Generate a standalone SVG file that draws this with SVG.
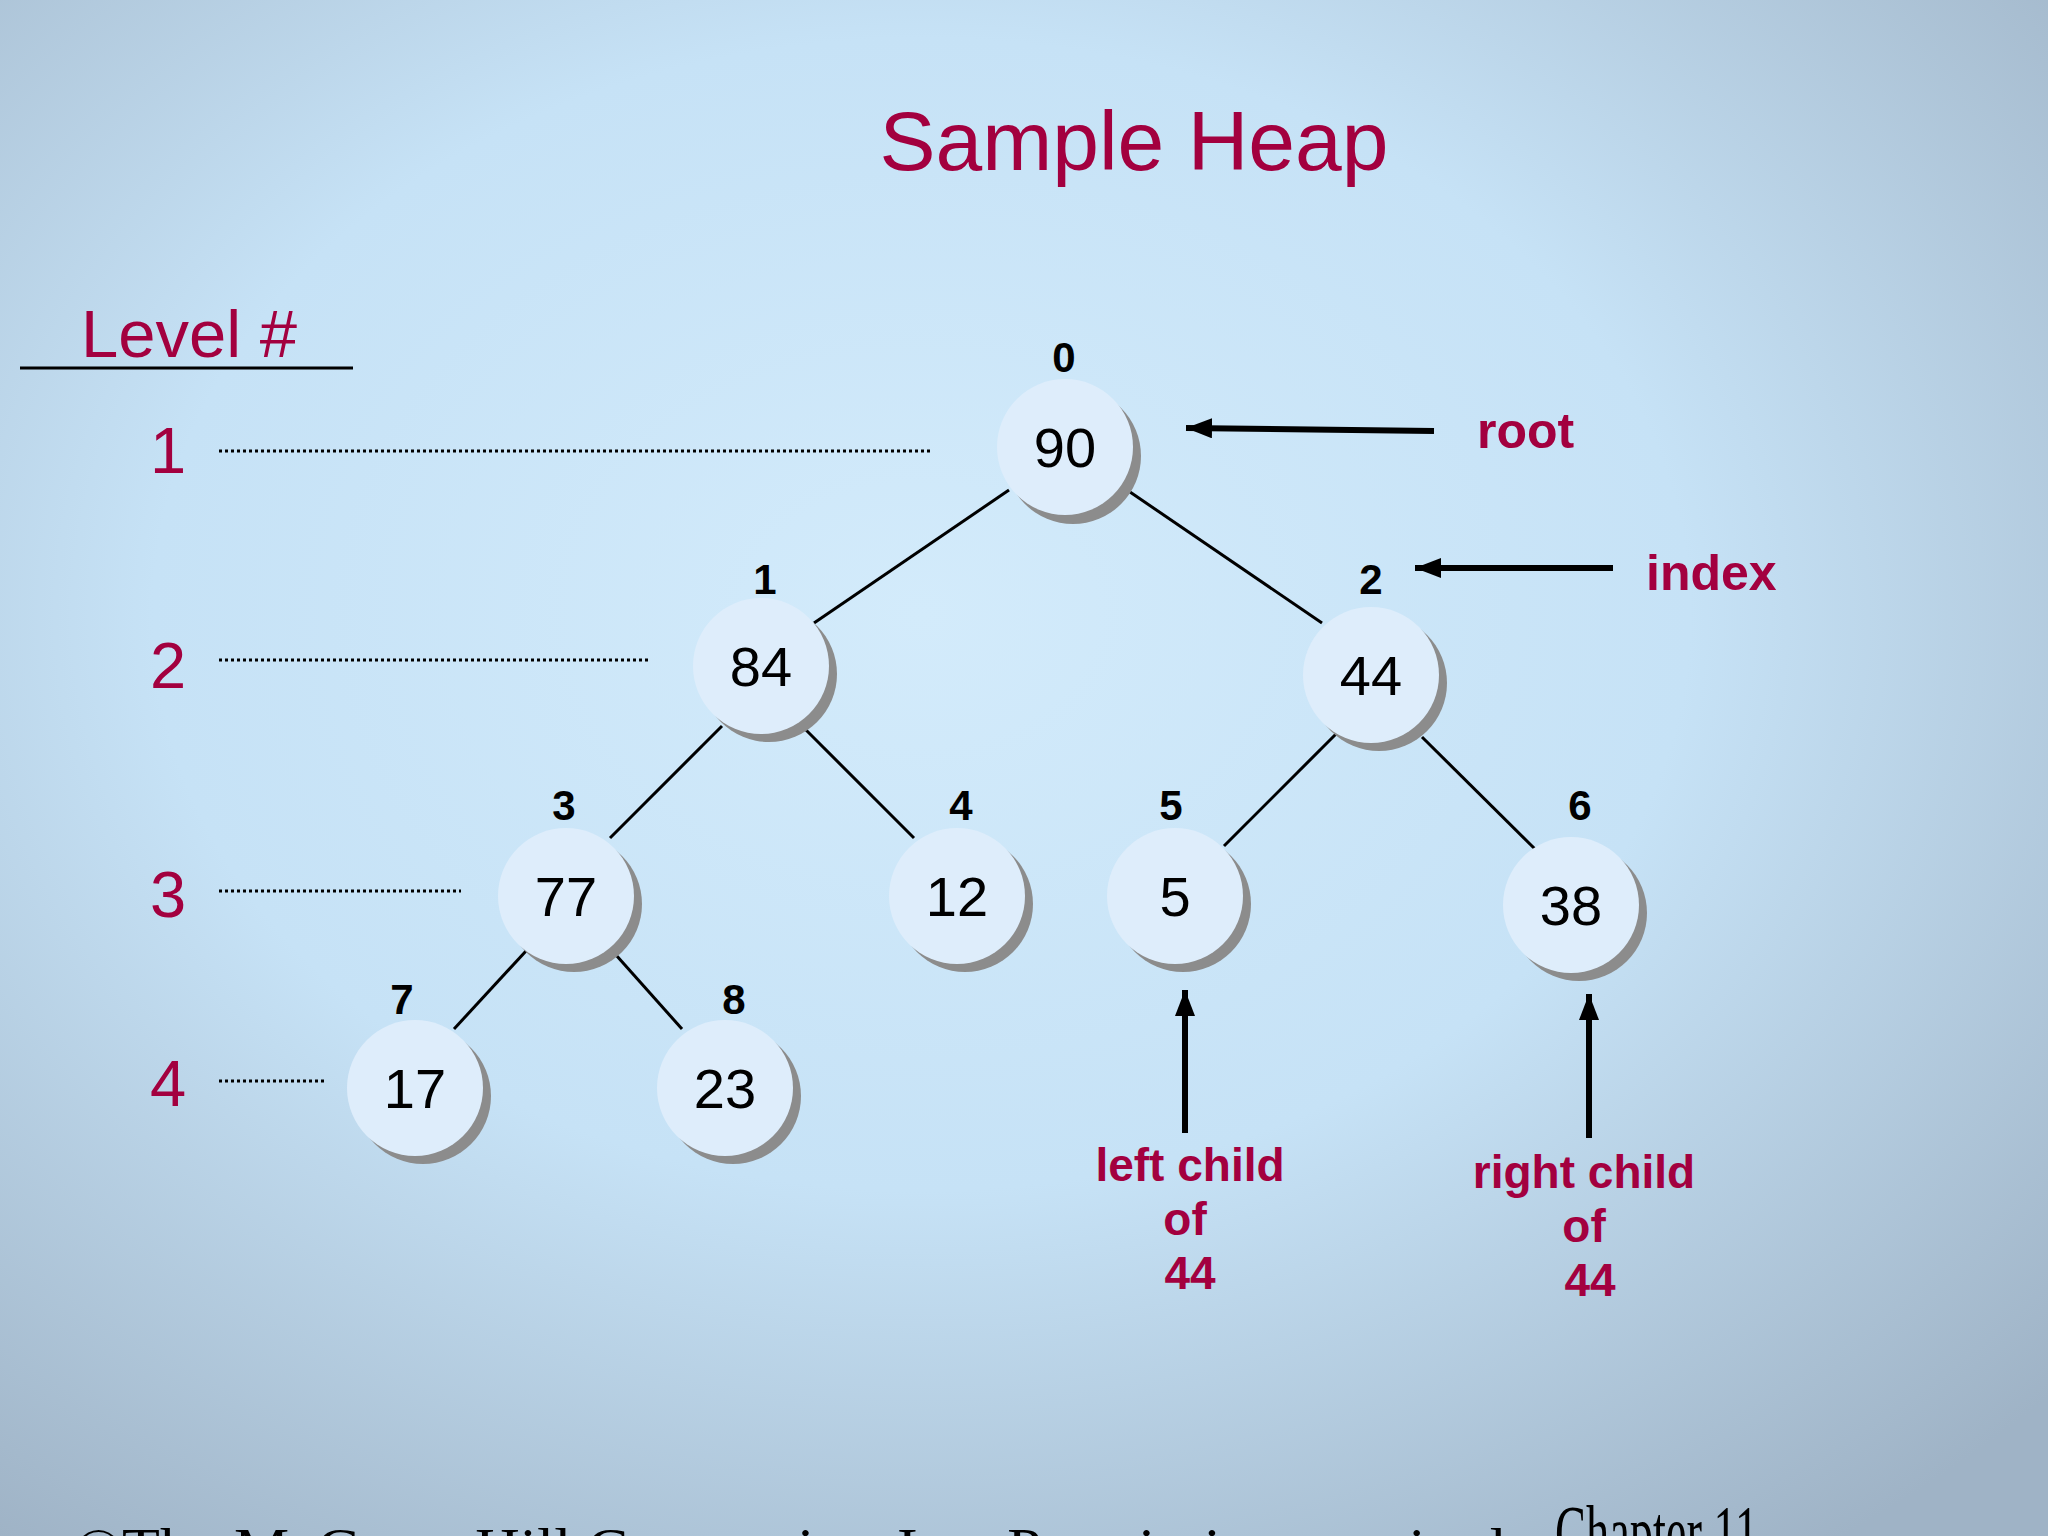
<svg xmlns="http://www.w3.org/2000/svg" width="2048" height="1536" viewBox="0 0 2048 1536">
<defs>
<radialGradient id="bg" cx="0.45" cy="0.4" r="0.75">
<stop offset="0" stop-color="#d3ebfb"/>
<stop offset="0.5" stop-color="#c6e2f6"/>
<stop offset="1" stop-color="#9fb3c6"/>
</radialGradient>
<marker id="ah" markerWidth="26" markerHeight="20" refX="0" refY="10" orient="auto" markerUnits="userSpaceOnUse">
<path d="M26,0 L0,10 L26,20 Z" fill="#000"/>
</marker>
</defs>
<style>
.nd{fill:#deedfb}
.sh{fill:#8c8c8c}
.v{font-family:"Liberation Sans",Arial,sans-serif;font-size:56px;fill:#000;text-anchor:middle}
.ix{font-family:"Liberation Sans",Arial,sans-serif;font-size:42px;font-weight:bold;fill:#000;text-anchor:middle}
.red{fill:#a3003f;font-family:"Liberation Sans",Arial,sans-serif}
.lab{font-size:46px;font-weight:bold;text-anchor:middle}
.dot{stroke:#000;stroke-width:3;stroke-dasharray:3 3}
.e{stroke:#000;stroke-width:3}
.ar{stroke:#000;stroke-width:6;marker-start:url(#ah)}
</style>
<rect width="2048" height="1536" fill="url(#bg)"/>
<text x="1134" y="170" class="red" font-size="84" text-anchor="middle">Sample Heap</text>
<g id="levels">
<text x="81" y="357" class="red" font-size="67">Level #</text>
<line x1="20" y1="368" x2="353" y2="368" stroke="#000" stroke-width="3"/>
<text x="168" y="473" class="red" font-size="65" text-anchor="middle">1</text>
<text x="168" y="688" class="red" font-size="65" text-anchor="middle">2</text>
<text x="168" y="917" class="red" font-size="65" text-anchor="middle">3</text>
<text x="168" y="1106" class="red" font-size="65" text-anchor="middle">4</text>
<line class="dot" x1="219" y1="451" x2="930" y2="451"/>
<line class="dot" x1="219" y1="660" x2="650" y2="660"/>
<line class="dot" x1="219" y1="891" x2="461" y2="891"/>
<line class="dot" x1="219" y1="1081" x2="324" y2="1081"/>
</g>
<g id="connectors">
<line class="e" x1="1009" y1="490" x2="814" y2="623"/>
<line class="e" x1="1130" y1="492" x2="1322" y2="623"/>
<line class="e" x1="722" y1="726" x2="610" y2="838"/>
<line class="e" x1="802" y1="726" x2="914" y2="838"/>
<line class="e" x1="1336" y1="734" x2="1224" y2="846"/>
<line class="e" x1="1422" y1="737" x2="1535" y2="849"/>
<line class="e" x1="526" y1="951" x2="454" y2="1029"/>
<line class="e" x1="616" y1="955" x2="682" y2="1029"/>
<line class="ar" x1="1186" y1="428" x2="1434" y2="431"/>
<line class="ar" x1="1415" y1="568" x2="1613" y2="568"/>
<line class="ar" x1="1185" y1="990" x2="1185" y2="1133"/>
<line class="ar" x1="1589" y1="994" x2="1589" y2="1138"/>
</g>
<g id="n0"><circle class="sh" cx="1073" cy="456" r="68"/><circle class="nd" cx="1065" cy="447" r="68"/><text class="v" x="1065" y="467">90</text><text class="ix" x="1064" y="372">0</text></g>
<g id="n1"><circle class="sh" cx="769" cy="674" r="68"/><circle class="nd" cx="761" cy="666" r="68"/><text class="v" x="761" y="686">84</text><text class="ix" x="765" y="594">1</text></g>
<g id="n2"><circle class="sh" cx="1379" cy="683" r="68"/><circle class="nd" cx="1371" cy="675" r="68"/><text class="v" x="1371" y="695">44</text><text class="ix" x="1371" y="594">2</text></g>
<g id="n3"><circle class="sh" cx="574" cy="904" r="68"/><circle class="nd" cx="566" cy="896" r="68"/><text class="v" x="566" y="916">77</text><text class="ix" x="564" y="820">3</text></g>
<g id="n4"><circle class="sh" cx="965" cy="904" r="68"/><circle class="nd" cx="957" cy="896" r="68"/><text class="v" x="957" y="916">12</text><text class="ix" x="961" y="820">4</text></g>
<g id="n5"><circle class="sh" cx="1183" cy="904" r="68"/><circle class="nd" cx="1175" cy="896" r="68"/><text class="v" x="1175" y="916">5</text><text class="ix" x="1171" y="820">5</text></g>
<g id="n6"><circle class="sh" cx="1579" cy="913" r="68"/><circle class="nd" cx="1571" cy="905" r="68"/><text class="v" x="1571" y="925">38</text><text class="ix" x="1580" y="820">6</text></g>
<g id="n7"><circle class="sh" cx="423" cy="1096" r="68"/><circle class="nd" cx="415" cy="1088" r="68"/><text class="v" x="415" y="1108">17</text><text class="ix" x="402" y="1014">7</text></g>
<g id="n8"><circle class="sh" cx="733" cy="1096" r="68"/><circle class="nd" cx="725" cy="1088" r="68"/><text class="v" x="725" y="1108">23</text><text class="ix" x="734" y="1014">8</text></g>
<g id="labels" class="red">
<text x="1477" y="448" font-size="50" font-weight="bold">root</text>
<text x="1646" y="590" font-size="50" font-weight="bold">index</text>
<text class="lab" x="1190" y="1181">left child</text>
<text class="lab" x="1185" y="1235">of</text>
<text class="lab" x="1190" y="1289">44</text>
<text class="lab" x="1584" y="1188">right child</text>
<text class="lab" x="1584" y="1242">of</text>
<text class="lab" x="1590" y="1296">44</text>
</g>
<text x="75" y="1568" font-family="Liberation Serif,serif" font-size="58" fill="#000" textLength="1430" lengthAdjust="spacingAndGlyphs">©The McGraw-Hill Companies, Inc. Permission required</text>
<text x="1555" y="1558" font-family="Liberation Serif,serif" font-size="58" fill="#000" transform="translate(1555 1558) scale(0.8 1.3) translate(-1555 -1558)">Chapter 11</text>
</svg>
